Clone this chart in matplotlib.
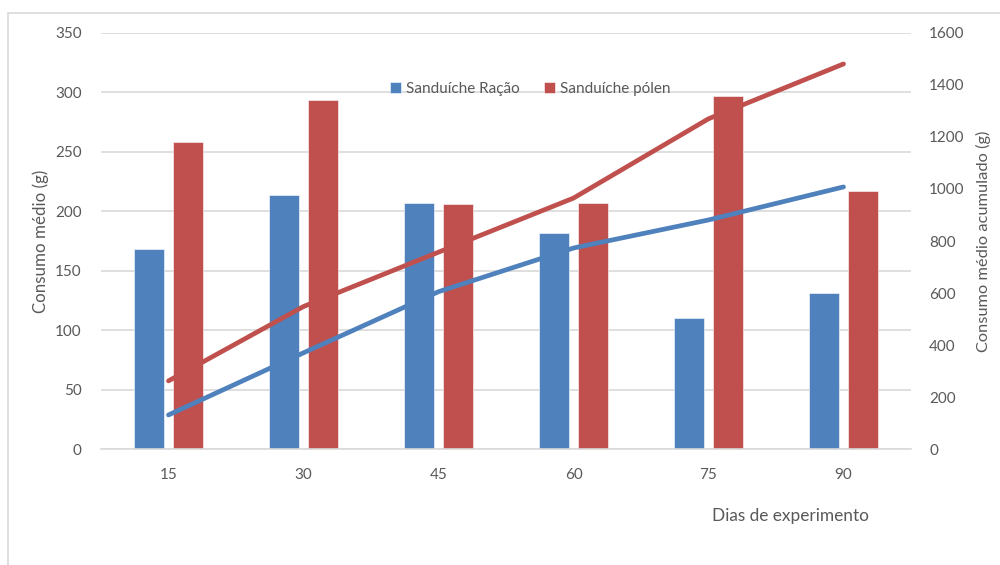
import matplotlib.pyplot as plt
import numpy as np
from matplotlib.patches import Rectangle

# consumo por período (g)
dias = ["15", "30", "45", "60", "75", "90"]
racao = [168, 214, 207, 182, 110, 131]
polen = [258, 294, 206, 207, 297, 217]

# consumo acumulado (g)
racao_acum = [131, 370, 605, 773, 881, 1008]
polen_acum = [262, 548, 757, 965, 1270, 1481]

azul = "#4F81BD"
vermelho = "#C0504D"
cinza = "#595959"

plt.rcParams["font.family"] = ["Lato", "DejaVu Sans"]
plt.rcParams["font.size"] = 11

fig = plt.figure(figsize=(10, 5.65), dpi=100)
# moldura do gráfico
fig.patches.append(Rectangle((0.008, -0.1), 1.1, 1.1 - 0.023, transform=fig.transFigure,
                             fill=False, edgecolor="#d9d9d9", linewidth=1.2))

ax = fig.add_axes([0.101, 0.2053, 0.81, 0.7363])
x = np.arange(len(dias))
w = 0.222
off = 0.144

ax.bar(x - off, racao, w, color=azul, edgecolor="#ffffff", linewidth=0.4, label="Sanduíche Ração")
ax.bar(x + off, polen, w, color=vermelho, edgecolor="#ffffff", linewidth=0.4, label="Sanduíche pólen")

ax.set_xlim(-0.5, len(dias) - 0.5)
ax.set_ylim(0, 350)
ax.set_yticks(range(0, 351, 50))
ax.set_xticks(x)
ax.set_xticklabels(dias)
ax.set_axisbelow(True)
ax.grid(axis="y", color="#d9d9d9", linewidth=1.2)
for s in ["top", "right", "left"]:
    ax.spines[s].set_visible(False)
ax.spines["bottom"].set_color("#d9d9d9")
ax.spines["bottom"].set_linewidth(1.2)
ax.tick_params(length=0, colors=cinza, labelsize=11)
ax.tick_params(axis="y", pad=14)
ax.tick_params(axis="x", pad=14)
ax.set_ylabel("Consumo médio (g)", color=cinza, fontsize=12.2, labelpad=4)

ax2 = ax.twinx()
ax2.plot(x, racao_acum, color=azul, linewidth=3.4, solid_capstyle="round")
ax2.plot(x, polen_acum, color=vermelho, linewidth=3.4, solid_capstyle="round")
ax2.set_ylim(0, 1600)
ax2.set_yticks(range(0, 1601, 200))
for s in ax2.spines.values():
    s.set_visible(False)
ax2.tick_params(length=0, colors=cinza, labelsize=11, pad=13)
ax2.set_ylabel("Consumo médio acumulado (g)", color=cinza, fontsize=11.8, labelpad=8)

fig.text(0.79, 0.086, "Dias de experimento", color=cinza, fontsize=12.4, ha="center", va="center")

leg = ax.legend(loc="center", bbox_to_anchor=(0.53, 0.865), ncol=2, frameon=False,
                handlelength=0.7, handleheight=0.7, handletextpad=0.35, columnspacing=1.6,
                fontsize=11)
for t in leg.get_texts():
    t.set_color(cinza)

fig.savefig("out.png", dpi=100)
